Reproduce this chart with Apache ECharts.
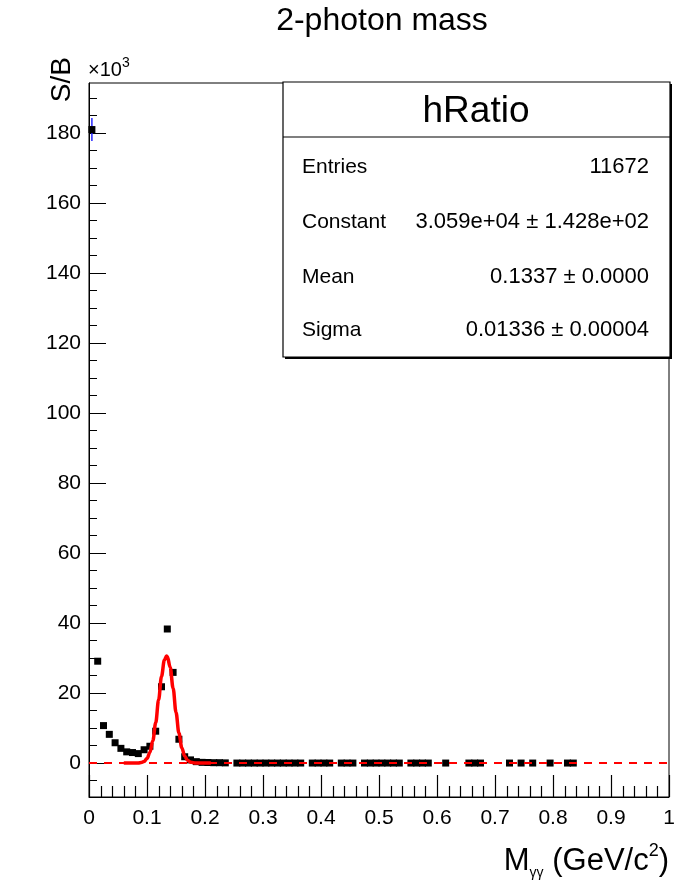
<!DOCTYPE html>
<html>
<head>
<meta charset="utf-8">
<script src="https://cdn.jsdelivr.net/npm/echarts@6/dist/echarts.min.js"></script>
<style>
html,body{margin:0;padding:0;background:#fff;}
#chart{width:692px;height:887px;}
</style>
</head>
<body>
<div id="chart"></div>
<script>
// ---- data (S/B in units of 10^3) ----
const binCenters = [0.005,0.015,0.025,0.035,0.045,0.055,0.065,0.075,0.085,0.095,
  0.105,0.115,0.125,0.135,0.145,0.155,0.165,0.175,0.185,0.195,0.205,0.215,0.225,0.235,
  0.255,0.265,0.275,0.285,0.295,0.305,0.315,0.325,0.335,0.345,0.355,0.365,
  0.385,0.395,0.405,0.415,
  0.435,0.445,0.455,
  0.475,0.485,0.495,0.505,0.515,0.525,0.535,
  0.555,0.565,0.575,0.585,
  0.615,
  0.655,0.665,0.675,
  0.725,0.745,0.765,0.795,0.825,0.835];
const ratioValues = [181.0,29.1,10.7,8.2,5.8,4.2,3.2,3.0,2.7,3.8,
  4.8,9.1,21.8,38.3,25.9,6.8,1.8,0.9,0.4,0.2,0.15,0.1,0.1,0.05,
  0,0,0,0,0,0,0,0,0,0,0,0,
  0,0,0,0,
  0,0,0,
  0,0,0,0,0,0,0,
  0,0,0,0,
  0,
  0,0,0,
  0,0,0,0,0,0];
const ratioErrors = [3.3,0.6,0.3,0.3,0.2,0.2,0.2,0.2,0.2,0.2,
  0.2,0.3,0.5,0.7,0.6,0.3,0.2,0.1,0.1,0.1,0.1,0.1,0.1,0.1,
  0,0,0,0,0,0,0,0,0,0,0,0,
  0,0,0,0,
  0,0,0,
  0,0,0,0,0,0,0,
  0,0,0,0,
  0,
  0,0,0,
  0,0,0,0,0,0];
// Gaussian fit curve (Constant 30.59e3, Mean 0.1337, Sigma 0.01336), sampled values
const fitX = [0.060,0.065,0.070,0.075,0.080,0.085,0.090,0.095,0.100,0.105,0.110,0.115,0.120,0.125,0.130,0.1337,
  0.135,0.140,0.145,0.150,0.155,0.160,0.165,0.170,0.175,0.180,0.185,0.190,0.195,0.200,0.205,0.210];
const fitY = [0.0,0.0,0.0,0.002,0.01,0.04,0.145,0.46,1.27,3.05,6.34,11.48,18.08,24.75,29.44,30.59,
  30.45,27.37,21.39,14.53,8.58,4.40,1.96,0.76,0.26,0.075,0.019,0.004,0.001,0.0,0.0,0.0];
const xMajorTicks = [0,0.1,0.2,0.3,0.4,0.5,0.6,0.7,0.8,0.9,1];
const xTickLabels = ['0','0.1','0.2','0.3','0.4','0.5','0.6','0.7','0.8','0.9','1'];
const xMinorTicks = [0.02,0.04,0.06,0.08,0.12,0.14,0.16,0.18,0.22,0.24,0.26,0.28,0.32,0.34,0.36,0.38,
  0.42,0.44,0.46,0.48,0.52,0.54,0.56,0.58,0.62,0.64,0.66,0.68,0.72,0.74,0.76,0.78,
  0.82,0.84,0.86,0.88,0.92,0.94,0.96,0.98];
const yMajorTicks = [0,20,40,60,80,100,120,140,160,180];
const yMinorTicks = [-5,5,10,15,25,30,35,45,50,55,65,70,75,85,90,95,105,110,115,125,130,135,145,150,155,165,170,175,185,190];
const statRows = [
  ['Entries','11672'],
  ['Constant','3.059e+04 \u00b1 1.428e+02'],
  ['Mean','0.1337 \u00b1 0.0000'],
  ['Sigma','0.01336 \u00b1 0.00004']
];

const FONT = '"Liberation Sans", Arial, Helvetica, sans-serif';
const chart = echarts.init(document.getElementById('chart'), null, {renderer:'canvas'});

const points = binCenters.map((x,i)=>[x, ratioValues[i]]);
const errs = binCenters.map((x,i)=>[x, ratioValues[i], ratioErrors[i]]);
const fitData = fitX.map((x,i)=>[x, fitY[i]]);

const yMin = -9.7, yMax = 194.3;

const option = {
  animation:false,
  backgroundColor:'#fff',
  grid:{left:89,right:23,top:83,bottom:90,show:true,borderColor:'#000',borderWidth:1,backgroundColor:'transparent'},
  xAxis:{
    type:'value', min:0, max:1, position:'bottom',
    axisLine:{show:true,onZero:false,lineStyle:{color:'#000',width:1}},
    axisTick:{show:false},
    splitLine:{show:false},
    axisLabel:{color:'#000',fontSize:21,fontFamily:FONT,margin:11,customValues:xMajorTicks,
      formatter:(v)=>xTickLabels[Math.round(v*10)]}
  },
  yAxis:[{
    type:'value', min:yMin, max:yMax,
    axisLine:{show:true,onZero:false,lineStyle:{color:'#000',width:1}},
    axisTick:{show:true,inside:true,length:17,customValues:yMajorTicks,lineStyle:{color:'#000',width:1}},
    splitLine:{show:false},
    axisLabel:{color:'#000',fontSize:21,fontFamily:FONT,margin:8,customValues:yMajorTicks,formatter:(v)=>String(v)}
  },{
    type:'value', min:yMin, max:yMax, position:'left', offset:0,
    axisLine:{show:false,onZero:false},
    axisTick:{show:true,inside:true,length:8,customValues:yMinorTicks,lineStyle:{color:'#000',width:1}},
    splitLine:{show:false},
    axisLabel:{show:false}
  }],
  series:[
    {
      type:'custom', z:2, silent:true,
      data:errs,
      renderItem:(params, api)=>{
        const x = api.value(0), y = api.value(1), e = api.value(2);
        const p1 = api.coord([x, y-e]), p2 = api.coord([x, y+e]);
        return {type:'line', shape:{x1:p1[0],y1:p1[1],x2:p2[0],y2:p2[1]}, style:{stroke:'#2626ff',lineWidth:1.5}};
      }
    },
    {
      type:'scatter', z:3, silent:true,
      data:points, symbol:'rect', symbolSize:7,
      itemStyle:{color:'#000',opacity:1}
    },
    {
      type:'line', z:5, silent:true,
      data:fitData, showSymbol:false, smooth:0.35, smoothMonotone:'x',
      lineStyle:{color:'#ff0000',width:3.5},
      markLine:{
        silent:true, symbol:['none','none'], z:6,
        label:{show:false},
        lineStyle:{color:'#ff0000',width:1.8,type:[8,7],opacity:1},
        data:[{yAxis:0}]
      }
    }
  ]
};
chart.setOption(option);

// ---- annotations and x-axis ticks (tick positions from the axis scale) ----
const g = [];
const bottomPx = chart.convertToPixel({yAxisIndex:0}, yMin);
xMajorTicks.forEach(v=>{
  const px = Math.round(chart.convertToPixel({xAxisIndex:0}, v)) + 0.5;
  g.push({type:'line', z:200, shape:{x1:px,y1:bottomPx,x2:px,y2:bottomPx-22}, style:{stroke:'#000',lineWidth:1.2}});
});
xMinorTicks.forEach(v=>{
  const px = Math.round(chart.convertToPixel({xAxisIndex:0}, v)) + 0.5;
  g.push({type:'line', z:200, shape:{x1:px,y1:bottomPx,x2:px,y2:bottomPx-11}, style:{stroke:'#000',lineWidth:1.2}});
});

g.push({type:'text', x:382, y:21, z:150, style:{text:'2-photon mass', font:'32px '+FONT, fill:'#000', textAlign:'center', textVerticalAlign:'middle'}});
g.push({type:'text', x:88, y:80, z:150, style:{
  text:'{a|\u00d710}{b|3}', textAlign:'left', textVerticalAlign:'bottom',
  rich:{a:{fontSize:20,fontFamily:FONT,fill:'#000',lineHeight:24,verticalAlign:'bottom'},
        b:{fontSize:14,fontFamily:FONT,fill:'#000',lineHeight:24,verticalAlign:'top'}}
}});
g.push({type:'text', x:62, y:57, z:150, rotation:Math.PI/2, style:{text:'S/B', font:'28px '+FONT, fill:'#000', textAlign:'right', textVerticalAlign:'middle'}});
g.push({type:'text', x:669, y:880, z:150, style:{
  text:'{a|M}{b|\u03b3\u03b3}{a| (GeV/c}{c|2}{a|)}', textAlign:'right', textVerticalAlign:'bottom',
  rich:{a:{fontSize:31,fontFamily:FONT,fill:'#000',lineHeight:38,verticalAlign:'middle'},
        b:{fontSize:14,fontFamily:FONT,fill:'#000',lineHeight:38,verticalAlign:'bottom'},
        c:{fontSize:18,fontFamily:FONT,fill:'#000',lineHeight:38,verticalAlign:'top'}}
}});

const bx = 283, by = 82, bw = 387, bh = 275;
g.push({type:'rect', z:300, shape:{x:bx+2,y:by+2,width:bw,height:bh}, style:{fill:'#000'}});
g.push({type:'rect', z:301, shape:{x:bx,y:by,width:bw,height:bh}, style:{fill:'#fff',stroke:'#000',lineWidth:1.2}});
g.push({type:'line', z:302, shape:{x1:bx,y1:137,x2:bx+bw,y2:137}, style:{stroke:'#000',lineWidth:1.2}});
g.push({type:'text', z:302, x:476, y:112, style:{text:'hRatio', font:'37px '+FONT, fill:'#000', textAlign:'center', textVerticalAlign:'middle'}});
const rowY = [167,222,277,330];
statRows.forEach((r,i)=>{
  g.push({type:'text', z:302, x:302, y:rowY[i], style:{text:r[0], font:'21px '+FONT, fill:'#000', textAlign:'left', textVerticalAlign:'middle'}});
  g.push({type:'text', z:302, x:649, y:rowY[i], style:{text:r[1], font:'22px '+FONT, fill:'#000', textAlign:'right', textVerticalAlign:'middle'}});
});
chart.setOption({graphic:g});
</script>
</body>
</html>
